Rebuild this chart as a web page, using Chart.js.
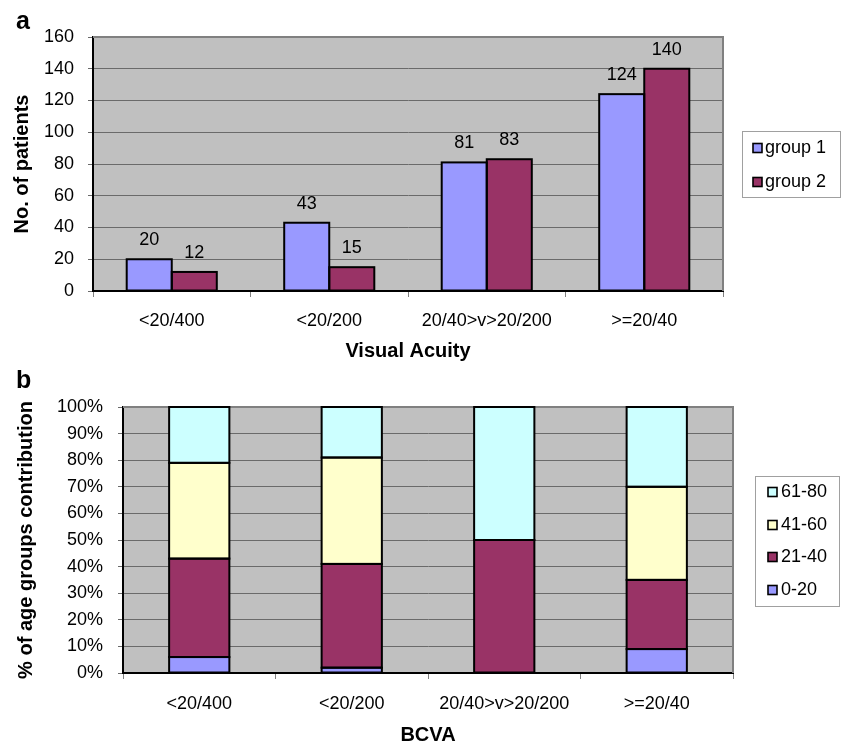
<!DOCTYPE html>
<html><head><meta charset="utf-8">
<script src="https://cdn.jsdelivr.net/npm/chart.js@4/dist/chart.umd.min.js"></script>
<style>
html,body{margin:0;padding:0;background:#fff;}
#wrap{position:relative;width:841px;height:747px;overflow:hidden;}
#c1{position:absolute;left:0;top:0;}
#c2{position:absolute;left:0;top:370px;}
</style></head><body>
<div id="wrap">
<canvas id="c1" width="841" height="370"></canvas>
<canvas id="c2" width="841" height="377"></canvas>
</div>
<script>
// ---------- data ----------
const acuityCategories = ['<20/400', '<20/200', '20/40>v>20/200', '>=20/40'];
const group1Values = [20, 43, 81, 124];
const group2Values = [12, 15, 83, 140];
const seriesNamesA = ['group 1', 'group 2'];

const bcvaCategories = ['<20/400', '<20/200', '20/40>v>20/200', '>=20/40'];
const age0to20 = [6, 2, 0, 9];
const age21to40 = [37, 39, 50, 26];
const age41to60 = [36, 40, 0, 35];
const age61to80 = [21, 19, 50, 30];
const ageGroupNames = ['0-20', '21-40', '41-60', '61-80'];

// ---------- styles ----------
const FONT = 'Liberation Sans, Arial, Helvetica, sans-serif';
const C_BLUE = '#9999FF', C_PLUM = '#993366', C_YEL = '#FFFFCC', C_CYAN = '#CCFFFF';
const GRID = '#6A6A6A';
const TICK_SIZE = 18;

const plotBg = {
  id: 'plotBg',
  beforeDraw(chart) {
    const {ctx, chartArea: a} = chart;
    ctx.save();
    ctx.fillStyle = '#C0C0C0';
    ctx.fillRect(a.left, a.top, a.right - a.left, a.bottom - a.top);
    ctx.restore();
  },
  beforeDatasetsDraw(chart) {
    const {ctx, chartArea: a} = chart;
    ctx.save();
    ctx.strokeStyle = '#808080';
    ctx.lineWidth = 2;
    ctx.beginPath();
    ctx.moveTo(a.left, a.top);
    ctx.lineTo(a.right, a.top);
    ctx.lineTo(a.right, a.bottom);
    ctx.stroke();
    ctx.restore();
  }
};

// outlines every bar with a 2px black line centred on its edges
const barOutline = {
  id: 'barOutline',
  afterDatasetsDraw(chart) {
    const ctx = chart.ctx;
    ctx.save();
    ctx.strokeStyle = '#000';
    ctx.lineWidth = 2;
    chart.data.datasets.forEach((ds, di) => {
      chart.getDatasetMeta(di).data.forEach(bar => {
        const p = bar.getProps(['x', 'y', 'base', 'width'], true);
        const h = Math.abs(p.base - p.y);
        if (h < 0.5) return;
        ctx.strokeRect(p.x - p.width / 2, Math.min(p.y, p.base), p.width, h);
      });
    });
    ctx.restore();
  }
};

function boxLegend(items, box, markerX, textX, rows) {
  return {
    id: 'boxLegend',
    afterDraw(chart) {
      const ctx = chart.ctx;
      ctx.save();
      ctx.strokeStyle = '#A0A0A0';
      ctx.lineWidth = 1;
      ctx.strokeRect(box[0] + 0.5, box[1] + 0.5, box[2], box[3]);
      ctx.font = TICK_SIZE + 'px ' + FONT;
      ctx.textBaseline = 'middle';
      ctx.textAlign = 'left';
      items.forEach((it, i) => {
        const cy = rows[i];
        ctx.fillStyle = it.color;
        ctx.fillRect(markerX, cy - 4.5, 9, 9);
        ctx.strokeStyle = '#000';
        ctx.lineWidth = 1.6;
        ctx.strokeRect(markerX, cy - 4.5, 9, 9);
        ctx.fillStyle = '#000';
        ctx.fillText(it.text, textX, cy + 0.5);
      });
      ctx.restore();
    }
  };
}

function panelLetter(letter, x, y) {
  return {
    id: 'panelLetter',
    afterDraw(chart) {
      const ctx = chart.ctx;
      ctx.save();
      ctx.font = 'bold 25px ' + FONT;
      ctx.fillStyle = '#000';
      ctx.textAlign = 'left';
      ctx.textBaseline = 'alphabetic';
      ctx.fillText(letter, x, y);
      ctx.restore();
    }
  };
}

const valueLabels = {
  id: 'valueLabels',
  afterDatasetsDraw(chart) {
    const ctx = chart.ctx;
    ctx.save();
    ctx.font = TICK_SIZE + 'px ' + FONT;
    ctx.fillStyle = '#000';
    ctx.textAlign = 'center';
    ctx.textBaseline = 'middle';
    chart.data.datasets.forEach((ds, di) => {
      chart.getDatasetMeta(di).data.forEach((bar, i) => {
        ctx.fillText(String(ds.data[i]), bar.x, bar.y - 19);
      });
    });
    ctx.restore();
  }
};

Chart.defaults.font.family = FONT;
Chart.defaults.color = '#000';

// ---------- chart a ----------
new Chart(document.getElementById('c1'), {
  type: 'bar',
  data: {
    labels: acuityCategories,
    datasets: [
      {label: seriesNamesA[0], data: group1Values, backgroundColor: C_BLUE},
      {label: seriesNamesA[1], data: group2Values, backgroundColor: C_PLUM}
    ]
  },
  options: {
    responsive: false,
    animation: false,
    layout: {padding: {left: 0, right: 118, top: 37, bottom: 0}},
    datasets: {bar: {borderWidth: 0, categoryPercentage: 0.572, barPercentage: 1}},
    plugins: {legend: {display: false}, tooltip: {enabled: false}},
    scales: {
      x: {
        grid: {display: true, drawOnChartArea: false, drawTicks: true, tickLength: 6, color: '#808080', offset: true},
        border: {color: '#000', width: 2},
        ticks: {font: {size: TICK_SIZE}, color: '#000', padding: 13, maxRotation: 0},
        title: {display: true, text: 'Visual Acuity', font: {size: 20, weight: 'bold'}, color: '#000', padding: {top: 0, bottom: 7}},
        afterFit(s) { s.height = 79; }
      },
      y: {
        min: 0, max: 160,
        ticks: {stepSize: 20, font: {size: TICK_SIZE}, color: '#000', padding: 14},
        grid: {color: GRID, lineWidth: 1, tickLength: 5, drawTicks: true},
        border: {color: '#000', width: 2},
        title: {display: true, text: 'No. of patients', font: {size: 20, weight: 'bold'}, color: '#000', padding: {top: 10, bottom: 0}},
        afterFit(s) { s.width = 93; }
      }
    }
  },
  plugins: [plotBg, barOutline, valueLabels,
    boxLegend([{text: 'group 1', color: C_BLUE}, {text: 'group 2', color: C_PLUM}],
      [742, 131, 98, 66], 753, 765, [148, 182]),
    panelLetter('a', 16, 29)]
});

// ---------- chart b ----------
new Chart(document.getElementById('c2'), {
  type: 'bar',
  data: {
    labels: bcvaCategories,
    datasets: [
      {label: ageGroupNames[0], data: age0to20, backgroundColor: C_BLUE},
      {label: ageGroupNames[1], data: age21to40, backgroundColor: C_PLUM},
      {label: ageGroupNames[2], data: age41to60, backgroundColor: C_YEL},
      {label: ageGroupNames[3], data: age61to80, backgroundColor: C_CYAN}
    ]
  },
  options: {
    responsive: false,
    animation: false,
    layout: {padding: {left: 0, right: 108, top: 37, bottom: 0}},
    datasets: {bar: {borderWidth: 0, categoryPercentage: 0.395, barPercentage: 1}},
    plugins: {legend: {display: false}, tooltip: {enabled: false}},
    scales: {
      x: {
        stacked: true,
        grid: {display: true, drawOnChartArea: false, drawTicks: true, tickLength: 6, color: '#808080', offset: true},
        border: {color: '#000', width: 2},
        ticks: {font: {size: TICK_SIZE}, color: '#000', padding: 14, maxRotation: 0},
        title: {display: true, text: 'BCVA', font: {size: 20, weight: 'bold'}, color: '#000', padding: {top: 0, bottom: 0}},
        afterFit(s) { s.height = 74; }
      },
      y: {
        stacked: true,
        min: 0, max: 100,
        ticks: {stepSize: 10, font: {size: TICK_SIZE}, color: '#000', padding: 15, callback: v => v + '%'},
        grid: {color: GRID, lineWidth: 1, tickLength: 5, drawTicks: true},
        border: {color: '#000', width: 2},
        title: {display: true, text: '% of age groups contribution', font: {size: 20, weight: 'bold'}, color: '#000', padding: {top: 14, bottom: 0}},
        afterFit(s) { s.width = 123; }
      }
    }
  },
  plugins: [plotBg, barOutline,
    boxLegend([{text: '61-80', color: C_CYAN}, {text: '41-60', color: C_YEL}, {text: '21-40', color: C_PLUM}, {text: '0-20', color: C_BLUE}],
      [755, 106, 84, 130], 768, 781, [122, 155, 187, 220]),
    panelLetter('b', 16, 18)]
});
</script>
</body></html>
